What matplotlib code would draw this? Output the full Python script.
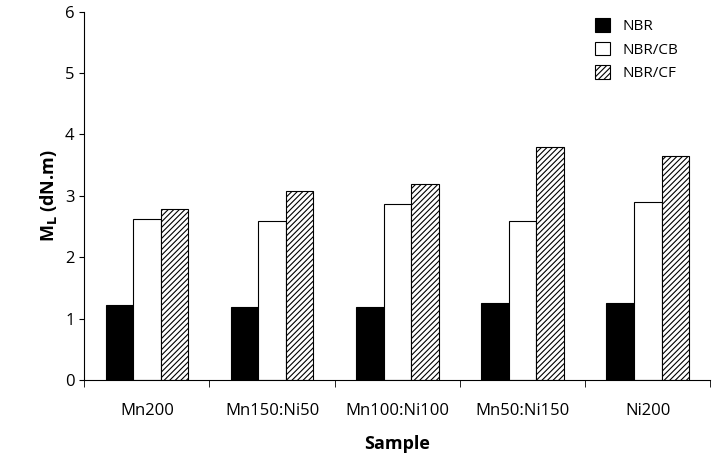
import numpy as np
import matplotlib.pyplot as plt

samples = ["Mn200", "Mn150:Ni50", "Mn100:Ni100", "Mn50:Ni150", "Ni200"]
nbr = [1.22, 1.19, 1.19, 1.26, 1.26]
nbr_cb = [2.62, 2.60, 2.87, 2.60, 2.90]
nbr_cf = [2.79, 3.08, 3.20, 3.80, 3.65]

plt.rcParams["font.family"] = "Open Sans"
plt.rcParams["hatch.linewidth"] = 0.8

fig, ax = plt.subplots(figsize=(7.14, 4.61), dpi=100)
fig.subplots_adjust(left=0.118, right=0.995, top=0.975, bottom=0.175)

x = np.arange(len(samples))
w = 0.22
ax.bar(x - w, nbr, w, color="black", edgecolor="black", linewidth=0.8, label="NBR")
ax.bar(x, nbr_cb, w, color="white", edgecolor="black", linewidth=0.8, label="NBR/CB")
ax.bar(x + w, nbr_cf, w, color="white", edgecolor="black", linewidth=0.8,
       hatch="//////", label="NBR/CF")

ax.set_xlim(-0.5, len(samples) - 0.5)
ax.set_ylim(0, 6)
ax.set_xticks(x)
ax.set_xticklabels(samples, fontsize=12)
ax.set_xticks(np.arange(len(samples) + 1) - 0.5, minor=True)
ax.tick_params(axis="x", which="major", length=0, pad=16)
ax.tick_params(axis="x", which="minor", length=5, direction="out")
ax.tick_params(axis="y", labelsize=12, direction="out")
ax.set_xlabel("Sample", fontsize=13, fontweight="bold", labelpad=12)
ax.set_ylabel(r"M$_\mathbf{L}$ (dN.m)", fontsize=13, fontweight="bold")
for s in ["top", "right"]:
    ax.spines[s].set_visible(False)

ax.legend(loc="upper right", frameon=False, fontsize=11, handlelength=1.0,
          handleheight=1.0, bbox_to_anchor=(0.97, 1.02))

fig.savefig("out.png")
